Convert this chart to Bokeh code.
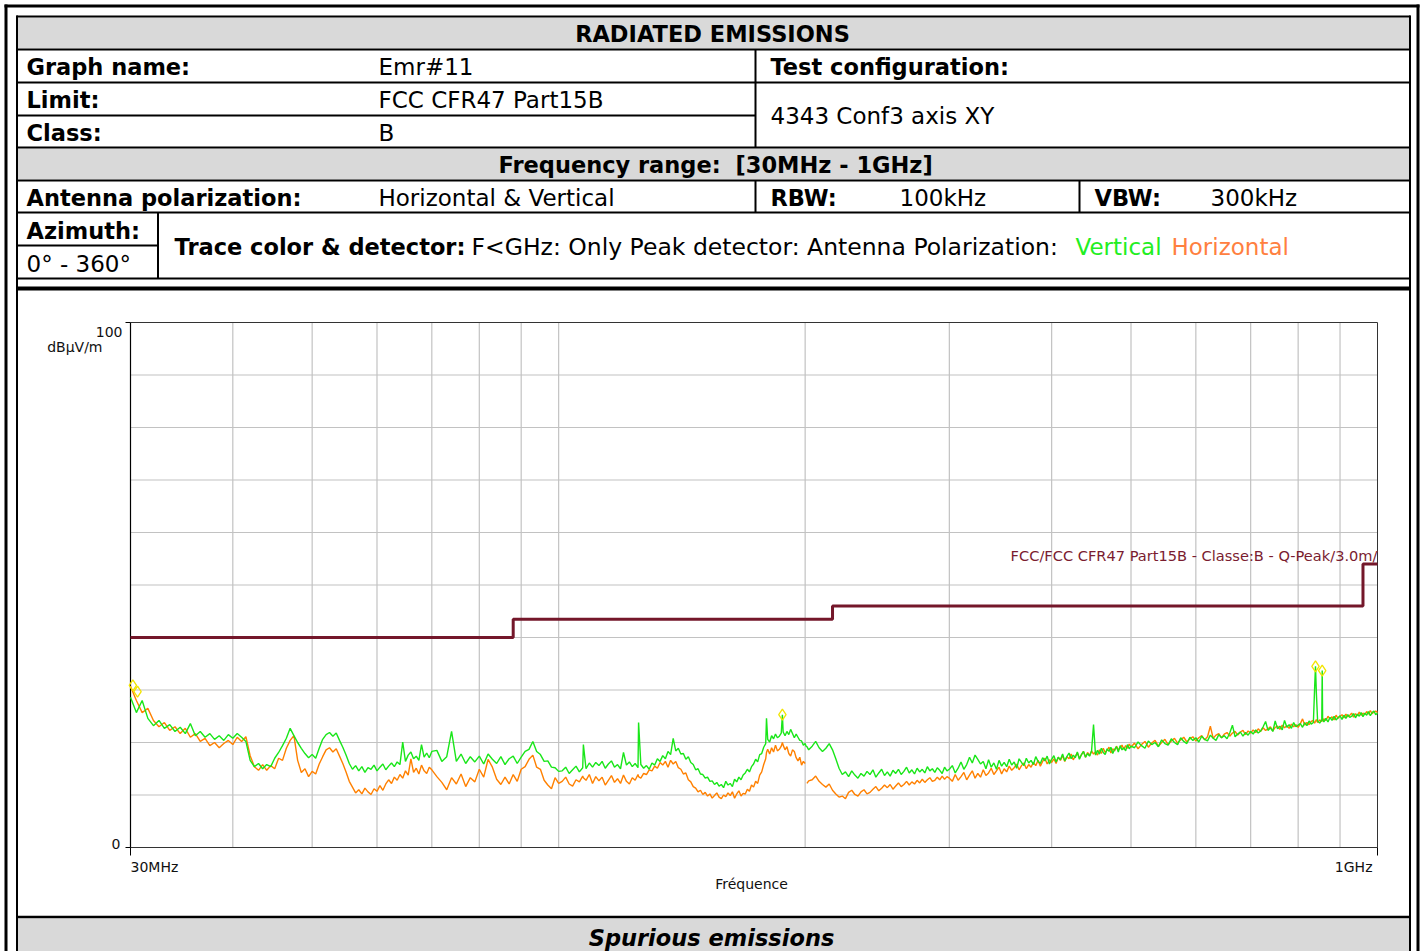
import math
import numpy as np
from bokeh.plotting import figure
from bokeh.models import Range1d, LogScale, LinearScale, ColumnDataSource
from bokeh.core.properties import value
from bokeh.embed import file_html
from bokeh.resources import INLINE

NaN = float("nan")

# ---------------------------------------------------------------- data
freq_mhz = [
    30.0, 30.5, 31.0, 31.5, 32.0, 32.5, 33.0, 33.5, 34.0, 34.5,
    35.0, 35.5, 36.0, 36.5, 37.0, 37.5, 38.0, 38.5, 39.0, 39.5,
    40.0, 40.5, 41.0, 41.5, 42.0, 42.5, 43.0, 43.5, 44.0, 44.5,
    45.0, 45.5, 46.0, 46.5, 47.0, 47.5, 48.0, 48.5, 49.0, 49.5, 50.0,
    50.5, 51.0, 51.5, 52.0, 52.5, 53.0, 53.5, 54.0, 54.5, 55.0,
    55.5, 56.0, 56.5, 57.0, 57.5, 58.0, 58.5, 59.0, 59.5, 60.0,
    60.5, 61.0, 61.5, 62.0, 62.5, 63.0, 63.5, 64.0, 64.5, 65.0,
    65.5, 66.0, 66.5, 67.0, 67.5, 68.0, 68.5, 69.0, 69.5, 70.0,
    71, 72, 73, 74, 75, 76, 77, 78, 79, 80,
    81, 82, 83, 84, 85, 86, 87, 88, 89, 90,
    91, 92, 93, 94, 95, 96, 97, 98, 99, 100,
    101, 102, 103, 104, 105, 106, 107, 107.2, 108, 109,
    110, 111, 112, 113, 114, 115, 116, 117, 118, 119,
    120, 121, 122, 123, 124, 125, 125.2, 126, 127, 128,
    129, 130, 131, 132, 133, 134, 135, 136, 137, 138,
    139, 140, 141, 142, 143, 144, 145, 146, 147, 148,
    149, 150, 151, 152, 153, 154, 155, 156, 157, 158,
    159, 160, 161, 162, 163, 164, 165, 166, 167, 168,
    169, 170, 171, 172, 173, 174, 175, 176, 177, 178,
    179, 179.4, 180, 181, 182, 183, 184, 185, 186, 187,
    187.6, 188, 189, 190, 191, 192, 193, 194, 195, 196,
    197, 198, 199, 200, 200.5,
    201, 202, 204, 206, 208, 210, 212, 214, 216, 218,
    220, 222, 224, 226, 228, 230, 232, 234, 236, 238,
    240, 242, 244, 246, 248, 250, 252, 254, 256, 258,
    260, 262, 264, 266, 268, 270, 272, 274, 276, 278,
    280, 282, 284, 286, 288, 290, 292, 294, 296, 298,
    300,
    302.5, 305, 307.5, 310, 312.5, 315, 317.5, 320, 322.5, 325,
    327.5, 330, 332.5, 335, 337.5, 340, 342.5, 345, 347.5, 350,
    352.5, 355, 357.5, 360, 362.5, 365, 367.5, 370, 372.5, 375,
    377.5, 380, 382.5, 385, 387.5, 390, 392.5, 395, 397.5, 400,
    402.5, 405, 407.5, 410, 412.5, 415, 417.5, 420, 422.5, 425,
    427.5, 430, 432.5, 435, 437.5, 440, 442.5, 445, 447.5, 450,
    452.5, 455, 457.5, 460, 462.5, 465, 467.5, 470, 472.5, 475,
    477.5, 480, 482.5, 485, 487.5, 490, 492.5, 495, 497.5, 500,
    505, 510, 515, 520, 525, 530, 535, 540, 545, 550,
    555, 560, 565, 570, 575, 580, 585, 590, 595, 600,
    605, 610, 615, 620, 625, 630, 635, 640, 645, 650,
    655, 660, 665, 670, 675, 680, 685, 690, 695, 700,
    705, 710, 715, 720, 725, 730, 735, 740, 745, 750,
    755, 760, 765, 770, 775, 780, 785, 790, 795, 800,
    805, 810, 815, 820, 825, 830,
    835, 838, 840, 842, 845, 850, 855, 856, 857, 860,
    865, 870, 875, 880, 885, 890, 895, 900, 905, 910,
    915, 920, 925, 930, 935, 940, 945, 950, 955, 960,
    965, 970, 975, 980, 985, 990, 995, 1000,
]

# Vertical polarization, peak detector (green trace), dBuV/m
vertical_dbuv = [
    28.6, 25.7, 28.0, 24.6, 23.2, 24.2, 22.7, 23.4, 22.1, 22.9,
    21.7, 23.6, 21.3, 22.1, 21.0, 21.7, 20.6, 21.3, 20.4, 21.5,
    20.8, 21.7, 21.0, 20.2, 16.6, 15.4, 16.0, 15.0, 15.8, 15.4,
    17.0, 18.1, 19.4, 20.8, 22.7, 21.3, 20.0, 18.9, 17.9, 17.1, 17.7,
    17.0, 18.9, 20.6, 21.5, 21.9, 21.2, 21.8, 20.4, 19.1, 17.6,
    16.0, 14.9, 15.6, 14.6, 15.4, 14.3, 15.2, 14.9, 15.7, 14.6,
    15.3, 15.9, 14.8, 15.5, 16.1, 15.4, 16.3, 15.8, 20.1, 16.4,
    17.6, 18.2, 16.9, 17.4, 16.6, 19.6, 17.2, 18.0, 17.1, 18.3,
    18.5, 16.4, 17.3, 22.1, 16.4, 17.8, 16.0, 17.3, 16.3, 17.4,
    15.9, 17.8, 16.8, 16.0, 17.3, 15.8, 16.9, 17.4, 16.0, 17.2,
    18.3, 18.7, 20.2, 18.3, 17.7, 16.4, 16.5, 15.3, 15.2, 14.5,
    14.6, 15.3, 14.1, 14.8, 15.5, 14.4, 15.2, 19.6, 15.0, 16.1,
    15.3, 16.2, 15.6, 16.4, 15.1, 15.9, 16.5, 15.3, 15.8, 15.0,
    18.1, 15.7, 16.3, 15.4, 16.0, 15.2, 23.8, 15.8, 15.1, 15.6,
    14.9, 16.1, 15.7, 16.9, 16.4, 17.5, 16.9, 18.3, 17.7, 20.8,
    18.4, 18.9, 17.8, 17.9, 16.8, 17.3, 16.2, 15.8, 14.8, 15.0,
    14.0, 13.9, 13.2, 13.4, 12.6, 12.7, 12.0, 12.4, 11.7, 12.0,
    11.4, 12.6, 11.9, 12.2, 11.6, 13.0, 12.5, 13.4, 12.9, 13.8,
    14.2, 14.9, 14.4, 15.4, 15.9, 16.8, 16.3, 17.7, 17.9, 19.1,
    19.8, 24.6, 20.6, 20.1, 21.3, 20.7, 21.6, 20.9, 21.2, 21.8,
    25.3, 22.0, 21.3, 22.1, 21.5, 22.5, 21.7, 20.9, 21.6, 21.0,
    20.4, 20.3, 19.5, 19.8, 19.3,
    19.2, 18.6, 19.3, 20.2, 19.0, 18.3, 18.9, 19.8, 18.6, 16.9,
    15.1, 13.9, 14.4, 13.5, 14.6, 13.8, 13.2, 14.1, 13.6, 14.5,
    13.9, 14.8, 13.4, 14.2, 14.9, 13.7, 14.4, 13.6, 14.7, 14.1,
    14.9, 13.9, 14.5, 15.3, 14.2, 14.8, 14.0, 15.1, 14.4, 14.9,
    14.2, 15.4, 14.6, 15.0, 14.3, 15.2, 14.7, 14.1, 15.3, 14.6,
    14.9,
    15.6, 14.2, 15.1, 16.3, 14.9, 15.8, 17.2, 16.1, 17.6, 16.8,
    15.9, 16.4, 15.0, 16.7, 15.3, 16.1, 14.9, 16.6, 15.5, 16.2,
    15.4, 16.8, 15.7, 16.3, 15.1, 16.9, 16.2, 15.6, 17.0, 16.1,
    16.6, 15.8, 17.3, 16.4, 16.0, 17.1, 16.5, 17.4, 15.9, 16.8,
    17.5, 16.3, 17.2, 16.7, 17.8, 16.5, 17.3, 18.0, 16.9, 17.6,
    17.1, 18.2, 16.8, 17.7, 18.3, 17.2, 17.9, 17.4, 18.4, 23.4,
    17.6, 18.5, 17.8, 18.9, 18.1, 17.7, 18.8, 18.3, 19.1, 17.9,
    18.7, 19.2, 18.2, 19.4, 18.6, 19.0, 18.4, 19.6, 18.8, 19.3,
    19.0, 20.1, 19.4, 18.9, 20.3, 19.6, 20.0, 19.2, 20.5, 19.8,
    19.5, 20.7, 20.0, 19.6, 20.9, 20.2, 19.8, 21.0, 20.4, 20.9,
    20.1, 21.2, 20.6, 20.3, 21.4, 20.8, 20.4, 21.5, 20.9, 21.3,
    20.7, 21.8, 23.3, 21.1, 21.6, 22.0, 21.2, 21.9, 21.4, 22.1,
    21.6, 22.4, 21.8, 22.2, 23.0, 24.0, 22.3, 22.8, 22.1, 24.1,
    22.6, 23.1, 22.4, 24.2, 22.9, 23.4, 22.7, 23.8, 23.0, 23.3,
    23.6, 22.9, 23.8, 23.2, 24.1, 23.5,
    23.8, 30.5, 34.5, 29.5, 24.1, 23.7, 24.3, 33.7, 24.4, 23.9,
    24.6, 23.9, 24.8, 24.2, 25.0, 24.3, 24.7, 25.1, 24.4, 25.2,
    24.6, 25.3, 24.8, 25.0, 25.5, 24.7, 25.4, 25.0, 25.7, 24.9,
    25.6, 25.2, 25.9, 25.1, 25.7, 26.0, 25.3, 25.6,
]

# Horizontal polarization, peak detector (orange trace), dBuV/m
horizontal_dbuv = [
    30.7, 28.0, 25.7, 26.5, 24.2, 23.0, 23.8, 22.3, 23.0, 21.7,
    22.7, 21.0, 21.7, 20.2, 20.8, 19.4, 20.0, 19.0, 19.8, 20.4,
    19.6, 21.0, 20.2, 21.1, 17.5, 15.4, 14.7, 15.8, 14.7, 15.6,
    15.0, 17.0, 16.6, 18.9, 20.4, 21.3, 16.6, 14.3, 15.0, 13.5, 14.5,
    14.0, 15.9, 17.3, 18.6, 19.0, 18.2, 18.8, 17.4, 16.0, 14.4,
    12.6, 11.5, 10.4, 11.0, 10.2, 11.3, 10.6, 10.1, 11.2, 10.7,
    11.8, 10.9, 12.1, 12.9, 12.2, 13.4, 12.8, 13.9, 13.2, 14.6,
    13.8, 16.9, 14.3, 15.1, 14.0, 15.7, 14.6, 14.1, 15.3, 14.8,
    13.5, 12.4, 11.0, 13.3, 12.1, 14.0, 11.6, 13.3, 12.5, 14.9,
    13.4, 16.8, 15.3, 13.0, 12.0, 13.4, 12.1, 13.9, 12.6, 14.9,
    15.4, 16.8, 17.6, 15.3, 14.9, 12.8, 11.9, 11.2, 13.3, 12.2,
    12.6, 13.4, 12.1, 11.7, 12.9, 12.5, 13.6, 13.3, 12.8, 13.9,
    12.2, 13.5, 12.7, 13.4, 11.9, 12.8, 13.7, 12.4, 13.1, 12.2,
    13.8, 12.6, 12.1, 13.3, 12.8, 13.9, 13.5, 13.2, 14.1, 13.9,
    14.8, 14.6, 15.5, 15.1, 16.2, 15.7, 16.4, 15.3, 16.6, 15.9,
    16.4, 15.2, 14.9, 14.0, 14.2, 12.9, 12.5, 11.6, 11.3, 10.6,
    10.9, 10.1, 10.5, 9.8, 10.2, 9.4, 9.9, 10.4, 9.6, 9.3,
    10.0, 9.7, 10.4, 9.9, 10.6, 9.4, 10.2, 10.8, 9.8, 10.3,
    10.2, 11.1, 10.7, 11.9, 11.5, 12.6, 12.2, 13.8, 14.4, 15.8,
    16.9, 18.1, 18.7, 17.8, 19.0, 18.2, 19.5, 18.4, 18.7, 19.3,
    20.0, 19.5, 18.6, 19.2, 17.9, 17.4, 18.6, 18.3, 17.1, 16.5,
    17.2, 15.7, 16.4, 16.0, NaN,
    12.2, 12.7, 12.9, 13.6, 12.6, 12.0, 11.5, 12.1, 10.9, 10.2,
    9.6, 9.8, 9.3, 10.5, 10.9, 10.1, 9.8, 10.6, 11.0, 10.2,
    10.5, 11.1, 11.6, 10.8, 11.3, 11.9, 11.4, 12.0, 11.1, 11.7,
    12.3, 11.6, 12.0, 12.6, 11.9, 12.5, 12.1, 12.8, 12.3, 13.0,
    12.4, 12.9, 13.3, 12.6, 12.8, 13.4, 12.9, 13.6, 13.0, 13.5,
    13.2,
    12.6, 13.9, 12.8, 13.5, 14.3, 12.9, 13.8, 14.6, 13.2, 14.1,
    13.4, 14.8, 13.7, 14.2, 15.1, 13.9, 14.6, 15.3, 14.0, 15.0,
    14.4, 15.5, 14.7, 15.2, 15.9, 14.8, 15.6, 16.1, 15.0, 15.8,
    15.3, 16.2, 15.6, 16.6, 15.5, 16.4, 17.0, 15.9, 16.7, 16.2,
    16.9, 16.0, 17.2, 16.6, 17.5, 16.4, 17.3, 16.9, 17.8, 16.7,
    17.4, 18.0, 17.0, 17.7, 18.3, 17.2, 18.1, 17.5, 18.4, 17.8,
    18.2, 17.6, 18.6, 17.9, 18.9, 18.1, 18.5, 19.1, 18.0, 18.8,
    18.4, 19.3, 18.6, 19.0, 19.5, 18.7, 19.4, 18.9, 19.7, 19.1,
    19.9, 18.8, 19.6, 20.2, 19.1, 19.9, 20.4, 19.3, 20.0, 20.6,
    19.6, 20.3, 20.8, 19.9, 20.5, 21.0, 20.1, 20.7, 21.1, 20.3,
    20.9, 21.3, 20.5, 21.1, 23.1, 20.8, 21.4, 21.7, 20.9, 21.6,
    21.9, 21.2, 21.8, 22.1, 21.4, 22.0, 22.3, 21.5, 22.2, 21.8,
    22.4, 21.9, 22.6, 22.1, 22.8, 22.3, 22.6, 23.0, 22.2, 22.9,
    23.1, 22.5, 23.3, 22.8, 23.2, 22.7, 23.5, 23.0, 23.4, 22.9,
    23.6, 24.5, 23.3, 23.8, 23.4, 24.0,
    24.2, 23.7, 24.0, 24.4, 23.8, 24.3, 24.0, 24.4, 24.1, 24.5,
    24.2, 25.0, 24.5, 24.9, 24.3, 25.2, 24.6, 25.0, 25.3, 24.7,
    25.4, 24.9, 25.2, 25.6, 24.8, 25.5, 25.1, 25.8, 25.2, 25.6,
    25.3, 25.9, 25.4, 26.1, 25.5, 25.8, 26.0, 25.7,
]

assert len(freq_mhz) == len(vertical_dbuv) == len(horizontal_dbuv)

# FCC CFR47 Part15B class B, quasi-peak @ 3 m
limit_freq_mhz = [30, 88, 88, 216, 216, 960, 960, 1000]
limit_dbuv = [40.0, 40.0, 43.5, 43.5, 46.0, 46.0, 54.0, 54.0]
limit_label = "FCC/FCC CFR47 Part15B - Classe:B - Q-Peak/3.0m/"

# peak markers
peak_freq_mhz = [30.2, 30.6, 187.6, 840, 856]
peak_dbuv = [30.9, 29.7, 25.3, 34.5, 33.7]

grid_freq_mhz = [40, 50, 60, 70, 80, 90, 100, 200, 300, 400, 500, 600, 700, 800, 900]
grid_dbuv = [10, 20, 30, 40, 50, 60, 70, 80, 90]
x_tick_freq = [30, 1000]
x_tick_labels = ["30MHz", "1GHz"]
y_tick_dbuv = [0, 100]
y_tick_labels = ["0", "100"]
F_MIN, F_MAX, DB_MIN, DB_MAX = 30.0, 1000.0, 0.0, 100.0

# ---------------------------------------------------------------- layout (page pixels)
W, H = 1426, 951
PLOT_L, PLOT_R, PLOT_T, PLOT_B = 130, 1377, 322, 847
FONT = value("DejaVu Sans")
GREEN = "#19e619"
ORANGE = "#ff8000"
LIMIT_COLOR = "#74172a"
GRID_COLOR = "#c2c2c2"
BAND_FILL = "#d9d9d9"

px_per_dec = (PLOT_R - PLOT_L) / math.log10(F_MAX / F_MIN)
f_lo = F_MIN * 10 ** ((0 - PLOT_L) / px_per_dec)
f_hi = F_MIN * 10 ** ((W - PLOT_L) / px_per_dec)
px_per_db = (PLOT_B - PLOT_T) / (DB_MAX - DB_MIN)
db_lo = DB_MIN - (H - PLOT_B) / px_per_db
db_hi = DB_MAX + (PLOT_T - 0) / px_per_db

p = figure(width=W, height=H, output_backend="svg", toolbar_location=None,
           x_range=Range1d(0, W), y_range=Range1d(H, 0),
           min_border=0, x_axis_location=None, y_axis_location=None,
           outline_line_color=None, background_fill_color="white",
           border_fill_color="white")
p.xgrid.visible = False
p.ygrid.visible = False
p.extra_x_ranges = {"freq": Range1d(f_lo, f_hi)}
p.extra_x_scales = {"freq": LogScale()}
p.extra_y_ranges = {"db": Range1d(db_lo, db_hi)}
p.extra_y_scales = {"db": LinearScale()}

# ---------------------------------------------------------------- header table
p.quad(left=[17, 17, 17], right=[1409, 1409, 1409], top=[17, 148, 918],
       bottom=[48, 179, 951], fill_color=BAND_FILL, line_color=None)

rules = [  # x0, y0, x1, y1
    (16, 16, 1410, 16), (16, 49, 1410, 49), (16, 82, 1410, 82),
    (16, 115, 755, 115), (16, 147, 1410, 147), (16, 180, 1410, 180),
    (16, 212, 1410, 212), (16, 245, 157.5, 245), (16, 278, 1410, 278),
    (755, 49, 755, 147), (755, 180, 755, 212), (1079, 180, 1079, 212),
    (157.5, 212, 157.5, 278),
    (16.5, 15, 16.5, 951), (1409.5, 15, 1409.5, 951),
]
p.segment(x0=[r[0] for r in rules], y0=[r[1] for r in rules],
          x1=[r[2] for r in rules], y1=[r[3] for r in rules],
          line_color="black", line_width=2)
p.segment(x0=[16], y0=[288], x1=[1410], y1=[288], line_color="black", line_width=4)
p.segment(x0=[16], y0=[916.5], x1=[1410], y1=[916.5], line_color="black", line_width=2.5)
outer = [(5.5, 4, 5.5, 951), (4, 5.5, 1419, 5.5), (1417.5, 4, 1417.5, 951)]
p.segment(x0=[r[0] for r in outer], y0=[r[1] for r in outer],
          x1=[r[2] for r in outer], y1=[r[3] for r in outer],
          line_color="black", line_width=3)

bold_txt = [
    ("Graph name:", 26, 66), ("Test configuration:", 770, 66),
    ("Limit:", 26, 99), ("Class:", 26, 132),
    ("Frequency range:", 498, 164), ("[30MHz - 1GHz]", 735, 164),
    ("Antenna polarization:", 26, 197), ("RBW:", 770, 197), ("VBW:", 1094, 197),
    ("Azimuth:", 26, 230), ("Trace color & detector:", 174, 246),
]
p.text(x=[t[1] for t in bold_txt], y=[t[2] for t in bold_txt], text=[t[0] for t in bold_txt],
       text_font=FONT, text_font_size="22.5px", text_font_style="bold",
       text_align="left", text_baseline="middle", text_color="black")
p.text(x=[712], y=[33], text=["RADIATED EMISSIONS"], text_font=FONT,
       text_font_size="22.5px", text_font_style="bold", text_align="center",
       text_baseline="middle", text_color="black")
reg_txt = [
    ("Emr#11", 378, 66), ("FCC CFR47 Part15B", 378, 99),
    ("4343 Conf3 axis XY", 770, 115), ("B", 378, 132),
    ("Horizontal & Vertical", 378, 197), ("100kHz", 899, 197), ("300kHz", 1210, 197),
    ("0° - 360°", 26, 263),
]
p.text(x=[t[1] for t in reg_txt], y=[t[2] for t in reg_txt], text=[t[0] for t in reg_txt],
       text_font=FONT, text_font_size="23px", text_align="left",
       text_baseline="middle", text_color="black")
p.text(x=[471], y=[246], text=["F<GHz: Only Peak detector: Antenna Polarization:"],
       text_font=FONT, text_font_size="23.5px", text_align="left",
       text_baseline="middle", text_color="black")
p.text(x=[1075], y=[246], text=["Vertical"], text_font=FONT, text_font_size="23px",
       text_align="left", text_baseline="middle", text_color="#22ee22")
p.text(x=[1171], y=[246], text=["Horizontal"], text_font=FONT, text_font_size="23px",
       text_align="left", text_baseline="middle", text_color="#ff8040")
p.text(x=[711], y=[937], text=["Spurious emissions"], text_font=FONT,
       text_font_size="22.5px", text_font_style="bold italic", text_align="center",
       text_baseline="middle", text_color="black")

# ---------------------------------------------------------------- chart
fr = dict(x_range_name="freq", y_range_name="db")
p.segment(x0=grid_freq_mhz, x1=grid_freq_mhz, y0=[DB_MIN] * len(grid_freq_mhz),
          y1=[DB_MAX] * len(grid_freq_mhz), line_color=GRID_COLOR, line_width=1.2, **fr)
p.segment(x0=[F_MIN] * len(grid_dbuv), x1=[F_MAX] * len(grid_dbuv), y0=grid_dbuv,
          y1=grid_dbuv, line_color=GRID_COLOR, line_width=1.2, **fr)
# frame
p.segment(x0=[F_MIN, F_MIN, F_MAX], x1=[F_MAX, F_MAX, F_MAX], y0=[DB_MAX, DB_MIN, DB_MIN],
          y1=[DB_MAX, DB_MIN, DB_MAX], line_color="#333333", line_width=1, **fr)
p.segment(x0=[F_MIN], x1=[F_MIN], y0=[DB_MIN], y1=[DB_MAX], line_color="black",
          line_width=1.2, **fr)
# ticks
p.segment(x0=[PLOT_L - 5] * 2, x1=[PLOT_L] * 2, y0=y_tick_dbuv, y1=y_tick_dbuv,
          line_color="black", line_width=1, y_range_name="db")
p.segment(x0=x_tick_freq, x1=x_tick_freq, y0=[PLOT_B] * 2, y1=[PLOT_B + 8] * 2,
          line_color="black", line_width=1, x_range_name="freq")

src = ColumnDataSource(dict(f=np.array(freq_mhz, dtype=float),
                            v=np.array(vertical_dbuv, dtype=float),
                            h=np.array(horizontal_dbuv, dtype=float)))
p.line("f", "h", source=src, line_color=ORANGE, line_width=1.4, **fr)
p.line("f", "v", source=src, line_color=GREEN, line_width=1.4, **fr)
p.line(limit_freq_mhz, limit_dbuv, line_color=LIMIT_COLOR, line_width=3, **fr)
p.scatter(peak_freq_mhz, peak_dbuv, marker="diamond", size=11, fill_color=None,
          line_color="#f2e400", line_width=1.3, **fr)

p.text(x=[F_MAX], y=[555], text=[limit_label], x_range_name="freq", text_font=FONT,
       text_font_size="14.6px", text_align="right", text_baseline="middle",
       text_color="#7a1c30")

p.text(x=[x_tick_freq[0]], y=[866], text=[x_tick_labels[0]], x_range_name="freq",
       text_font=FONT, text_font_size="14px", text_align="left",
       text_baseline="middle", text_color="#111111")
p.text(x=[x_tick_freq[1]], y=[866], text=[x_tick_labels[1]], x_range_name="freq",
       x_offset=-5, text_font=FONT, text_font_size="14px", text_align="right",
       text_baseline="middle", text_color="#111111")
p.text(x=[PLOT_L - 10, PLOT_L - 8], y=[843, 331], text=y_tick_labels, text_font=FONT,
       text_font_size="14px", text_align="right", text_baseline="middle",
       text_color="#111111")
p.text(x=[102], y=[346], text=["dBμV/m"], text_font=FONT, text_font_size="14px",
       text_align="right", text_baseline="middle", text_color="#111111")
p.text(x=[751], y=[883], text=["Fréquence"], text_font=FONT, text_font_size="14px",
       text_align="center", text_baseline="middle", text_color="#111111")

open("out.html", "w").write(file_html(p, INLINE))
